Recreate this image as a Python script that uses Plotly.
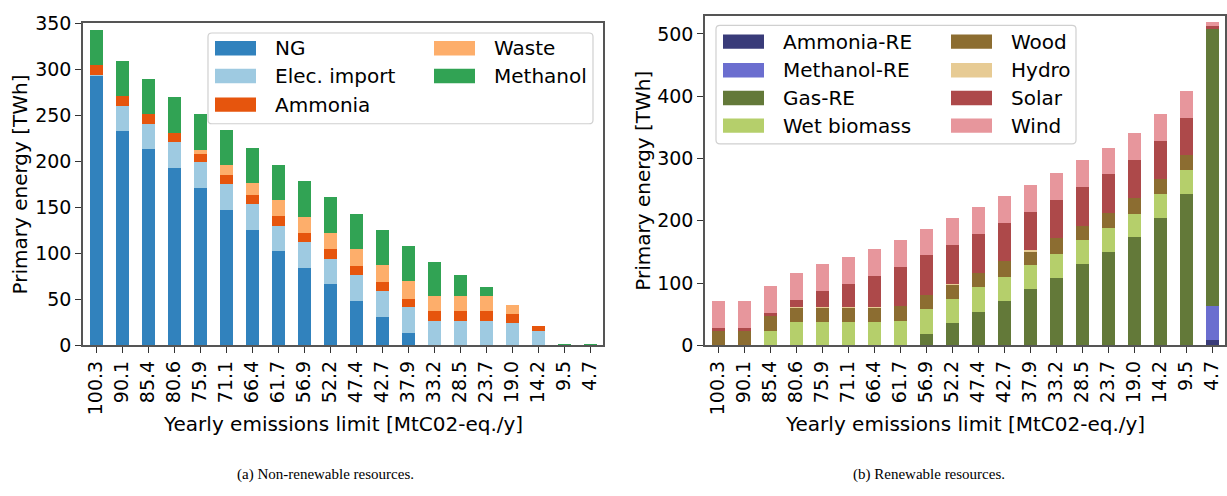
import plotly.graph_objects as go

# Emission limits (x categories, MtCO2-eq./y)
limits = ["100.3", "90.1", "85.4", "80.6", "75.9", "71.1", "66.4", "61.7", "56.9", "52.2",
          "47.4", "42.7", "37.9", "33.2", "28.5", "23.7", "19.0", "14.2", "9.5", "4.7"]

# Non-renewable primary energy [TWh]
ng = [293, 232.6, 213, 193, 171.3, 147.5, 125.6, 102.8, 84, 66.5,
      48.8, 31.2, 13.5, 0, 0, 0, 0, 0, 0, 0]
elec_import = [0.8, 28, 28, 28, 28, 28, 28, 27, 28, 28,
               28, 28, 28, 27, 27, 27, 24, 15.6, 0, 0]
ammonia = [11, 10, 10.4, 10.4, 9.3, 9.3, 10.4, 10.4, 10.4, 10.4,
           9.4, 9.3, 9.4, 10.4, 10.4, 10.4, 10.4, 5.2, 0, 0]
waste = [0, 0, 0, 0, 4.2, 11.5, 12.4, 17.6, 17.7, 17.6,
         18.7, 18.7, 18.7, 16.6, 16.6, 16.6, 9.3, 0, 0, 0]
methanol = [38.5, 38.7, 38.4, 38.4, 38.4, 38.4, 38.5, 38.5, 38.4, 38.5,
            38.4, 38.4, 38.4, 36.3, 22.8, 9.3, 0, 0, 0.4, 0.4]

# Renewable primary energy [TWh]
ammonia_re = [0] * 19 + [9.2]
methanol_re = [0] * 19 + [53.7]
gas_re = [0, 0, 0, 0, 0, 0, 0, 0, 18.4, 36.8,
          53.7, 72, 90.5, 109, 130.4, 150.3, 173.3, 204, 242.3, 444.8]
wet_biomass = [0, 0, 23, 38.3, 38.3, 38.3, 38.3, 40, 40, 38.4,
               40, 38.3, 38.3, 38.3, 38.3, 38.4, 38.4, 38.3, 40, 0]
wood = [23, 23, 24.5, 23, 23, 23, 23, 23, 23, 23,
        23, 24.6, 23, 24.6, 23, 24.5, 24.5, 24.6, 23, 0]
hydro = [0, 0, 0, 1.2, 1.2, 1.2, 1.2, 0, 0, 1.2,
         0, 0, 1.5, 0, 0, 0, 0, 0, 0, 0]
solar = [4.6, 4.6, 4.6, 11, 24.9, 35.7, 49.5, 62.9, 63, 61.6,
         62.8, 61.3, 61.4, 61.3, 63, 61.3, 61.3, 61.3, 60, 4.6]
wind = [43, 43, 43, 43, 43, 43, 43, 43, 43, 43,
        43, 43, 43, 43, 43, 43, 43, 43, 43, 6.1]

left_series = [
    ("NG", ng, "#3182bd"),
    ("Elec. import", elec_import, "#9ecae1"),
    ("Ammonia", ammonia, "#e6550d"),
    ("Waste", waste, "#fdae6b"),
    ("Methanol", methanol, "#31a354"),
]
right_series = [
    ("Ammonia-RE", ammonia_re, "#393b79"),
    ("Methanol-RE", methanol_re, "#6b6ecf"),
    ("Gas-RE", gas_re, "#637939"),
    ("Wet biomass", wet_biomass, "#b5cf6b"),
    ("Wood", wood, "#8c6d31"),
    ("Hydro", hydro, "#e7cb94"),
    ("Solar", solar, "#ad494a"),
    ("Wind", wind, "#e7969c"),
]

W, H = 1227, 496
FONT = "DejaVu Sans"
FS = 20       # legend and axis titles
TICK_FS = 19  # tick labels


def px(x):
    return x / W


def py(y):
    return 1 - y / H


fig = go.Figure()
for name, vals, color in left_series:
    fig.add_trace(go.Bar(x=limits, y=vals, name=name, width=0.5,
                         marker=dict(color=color, line=dict(width=0)),
                         xaxis="x", yaxis="y", showlegend=False))
for name, vals, color in right_series:
    fig.add_trace(go.Bar(x=limits, y=vals, name=name, width=0.5,
                         marker=dict(color=color, line=dict(width=0)),
                         xaxis="x2", yaxis="y2", showlegend=False))

spine = "#555555"
common_x = dict(type="category", range=[-0.5, 19.5], showline=True, mirror=True,
                linecolor=spine, linewidth=1.5, ticks="outside", ticklen=6,
                tickcolor="#333", tickangle=-90, showgrid=False, zeroline=False,
                tickfont=dict(family=FONT, size=TICK_FS, color="black"))
common_y = dict(showline=True, mirror=True, linecolor=spine, linewidth=1.5,
                ticks="outside", ticklen=6, tickcolor="#333", showgrid=False,
                zeroline=False, tickfont=dict(family=FONT, size=TICK_FS, color="black"))

fig.update_layout(
    width=W, height=H,
    margin=dict(l=0, r=0, t=0, b=0),
    paper_bgcolor="white", plot_bgcolor="white",
    barmode="stack",
    showlegend=False,
    font=dict(family=FONT, size=FS, color="black"),
    xaxis=dict(domain=[px(83), px(603)], anchor="y", **common_x),
    yaxis=dict(domain=[py(350), py(13)], anchor="x", range=[0, 350],
               tickvals=list(range(0, 351, 50)), **common_y),
    xaxis2=dict(domain=[px(705), px(1225)], anchor="y2", **common_x),
    yaxis2=dict(domain=[py(350), py(5)], anchor="x2", range=[0, 529],
                tickvals=list(range(0, 501, 100)), **common_y),
)

shapes = []
annotations = []


def rounded_box(x0, y0, x1, y1, r=4):
    rx, ry = r / W, r / H
    X0, X1 = px(x0), px(x1)
    Y0, Y1 = py(y0), py(y1)  # Y0 top, Y1 bottom in paper units
    path = (f"M {X0 + rx},{Y0} L {X1 - rx},{Y0} Q {X1},{Y0} {X1},{Y0 - ry} "
            f"L {X1},{Y1 + ry} Q {X1},{Y1} {X1 - rx},{Y1} "
            f"L {X0 + rx},{Y1} Q {X0},{Y1} {X0},{Y1 + ry} "
            f"L {X0},{Y0 - ry} Q {X0},{Y0} {X0 + rx},{Y0} Z")
    shapes.append(dict(type="path", path=path, xref="paper", yref="paper",
                       fillcolor="rgba(255,255,255,0.85)",
                       line=dict(color="#d0d0d0", width=1.2), layer="above"))


def legend(series, box, cols, rows_y):
    rounded_box(*box)
    per_col = len(rows_y)
    for i, (name, _, color) in enumerate(series):
        c, r = divmod(i, per_col)
        patch_x, text_x = cols[c]
        yc = rows_y[r]
        shapes.append(dict(type="rect", xref="paper", yref="paper",
                           x0=px(patch_x), x1=px(patch_x + 41),
                           y0=py(yc + 7.5), y1=py(yc - 7.5),
                           fillcolor=color, line=dict(width=0), layer="above"))
        annotations.append(dict(text=name, x=px(text_x), y=py(yc), xref="paper",
                                yref="paper", xanchor="left", yanchor="middle",
                                showarrow=False,
                                font=dict(family=FONT, size=FS, color="black")))


legend(left_series, (208, 23, 593, 118), [(215, 273), (434, 492)], [39, 68, 98])
legend(right_series, (716, 15, 1076, 139), [(723, 781), (951, 1009)], [32, 62, 91, 120])

# Axis titles
for x, y in [(20, 181.5), (643, 177.5)]:
    annotations.append(dict(text="Primary energy [TWh]", x=px(x), y=py(y),
                            xref="paper", yref="paper", textangle=-90,
                            xanchor="center", yanchor="middle", showarrow=False,
                            font=dict(family=FONT, size=FS, color="black")))
for x in [343, 965]:
    annotations.append(dict(text="Yearly emissions limit [MtC02-eq./y]", x=px(x),
                            y=py(432), xref="paper", yref="paper",
                            xanchor="center", yanchor="middle", showarrow=False,
                            font=dict(family=FONT, size=FS, color="black")))

# Sub-figure captions
for text, x in [("(a) Non-renewable resources.", 325), ("(b) Renewable resources.", 929)]:
    annotations.append(dict(text=text, x=px(x), y=py(485), xref="paper", yref="paper",
                            xanchor="center", yanchor="middle", showarrow=False,
                            font=dict(family="Liberation Serif", size=15, color="black")))

fig.update_layout(shapes=shapes, annotations=annotations)
fig.write_html("out.html")
